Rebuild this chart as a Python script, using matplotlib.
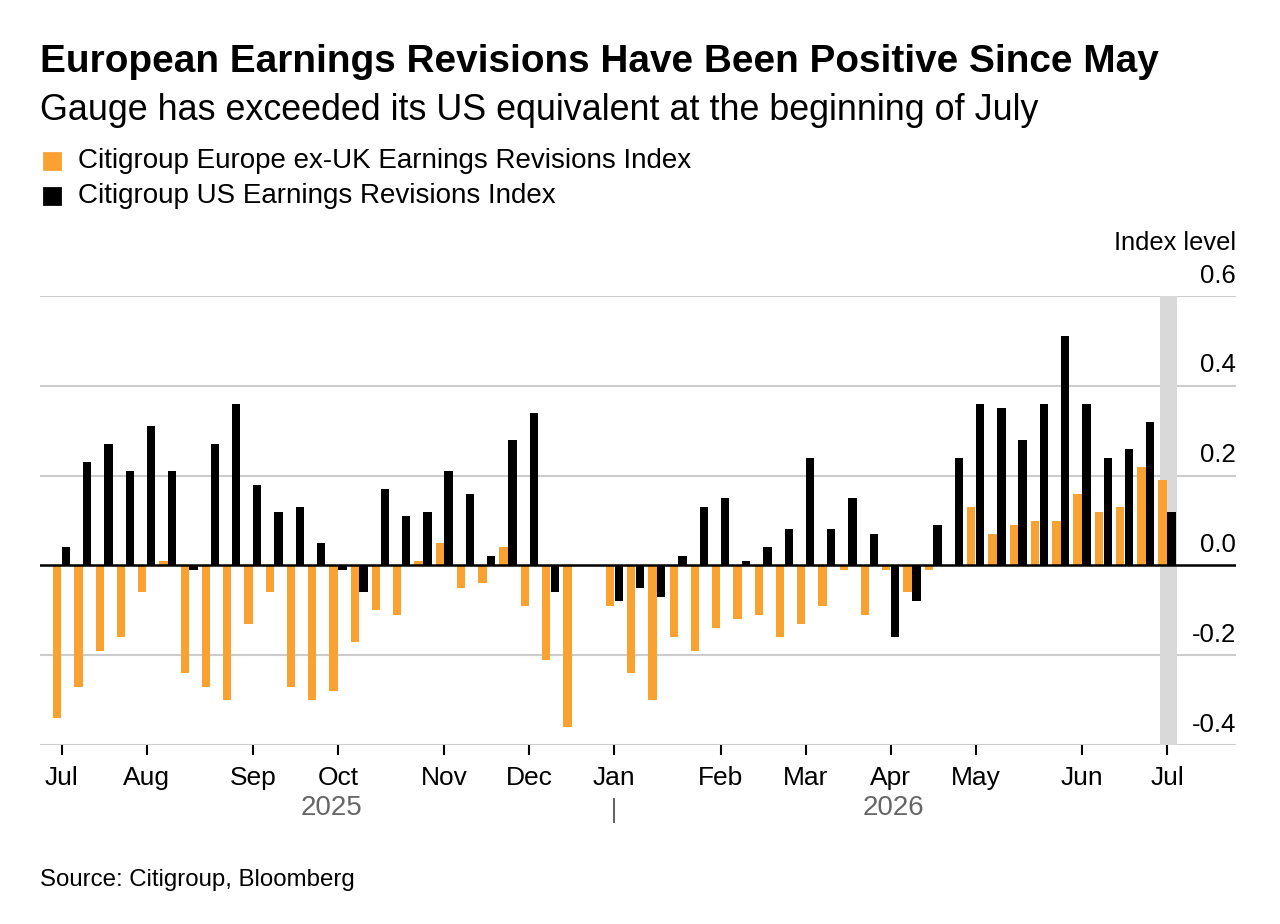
import numpy as np
import pandas as pd
import matplotlib
matplotlib.use('Agg')
import matplotlib.pyplot as plt
import matplotlib.transforms as mtransforms
from matplotlib.lines import Line2D

plt.rcParams['font.family'] = ['Liberation Sans', 'DejaVu Sans']

nan = np.nan

# weekly readings (Fridays), one week missing at year end
weeks = pd.date_range('2025-07-04', periods=53, freq='7D')

europe = [-0.34, -0.27, -0.19, -0.16, -0.06, 0.01, -0.24, -0.27, -0.30, -0.13,
          -0.06, -0.27, -0.30, -0.28, -0.17, -0.10, -0.11, 0.01, 0.05, -0.05,
          -0.04, 0.04, -0.09, -0.21, -0.36, nan, -0.09, -0.24, -0.30, -0.16,
          -0.19, -0.14, -0.12, -0.11, -0.16, -0.13, -0.09, -0.01, -0.11, -0.01,
          -0.06, -0.01, 0.0, 0.13, 0.07, 0.09, 0.10, 0.10, 0.16, 0.12,
          0.13, 0.22, 0.19]

us = [0.04, 0.23, 0.27, 0.21, 0.31, 0.21, -0.01, 0.27, 0.36, 0.18,
      0.12, 0.13, 0.05, -0.01, -0.06, 0.17, 0.11, 0.12, 0.21, 0.16,
      0.02, 0.28, 0.34, -0.06, nan, nan, -0.08, -0.05, -0.07, 0.02,
      0.13, 0.15, 0.01, 0.04, 0.08, 0.24, 0.08, 0.15, 0.07, -0.16,
      -0.08, 0.09, 0.24, 0.36, 0.35, 0.28, 0.36, 0.51, 0.36, 0.24,
      0.26, 0.32, 0.12]

yticks = [-0.4, -0.2, 0.0, 0.2, 0.4, 0.6]
years = ['2025', '2026']
year_pos = [pd.Timestamp('2025-10-01'), pd.Timestamp('2026-04-04')]

orange = '#f9a232'
grid_c = '#cccccc'

df = pd.DataFrame({'europe': europe, 'us': us}, index=weeks)

fig = plt.figure(figsize=(12.8, 9.24), dpi=100)
ax = fig.add_axes([40 / 1280, 1 - 745 / 924, 1196 / 1280, 449 / 924])

off = pd.Timedelta(days=1.45)
bw = 2.75
ax.bar(df.index - off, df['europe'], width=bw, color=orange, zorder=3)
ax.bar(df.index + off, df['us'], width=bw, color='black', zorder=3)

# shade latest week
last = df.index[-1]
ax.axvspan(last - pd.Timedelta(days=2.2), last + pd.Timedelta(days=3.4),
           color='#d9d9d9', zorder=1, lw=0)

ax.set_xlim(df.index[0] - pd.Timedelta(days=7.1), last + pd.Timedelta(days=22.7))
ax.set_ylim(-0.4, 0.6)

for y in yticks:
    if y == 0:
        ax.axhline(y, color='black', lw=1.8, zorder=4)
    else:
        ax.axhline(y, color=grid_c, lw=1.5, zorder=0)
    ax.annotate('%.1f' % y, xy=(1, y), xycoords=('axes fraction', 'data'),
                xytext=(0, 6), textcoords='offset points',
                ha='right', va='bottom', fontsize=18.5, color='black')
fig.text(1236 / 1280, 1 - 243 / 924, 'Index level', ha='right', va='center',
         fontsize=18.3)

for s in ax.spines.values():
    s.set_visible(False)
ax.set_yticks([])

# month ticks at first week of each month
first = [d for i, d in enumerate(df.index) if i == 0 or d.month != df.index[i - 1].month]
ax.set_xticks(first)
ax.set_xticklabels([d.strftime('%b') for d in first], fontsize=19)
ax.tick_params(axis='x', length=7, width=1.5, color='black', pad=8)

# year labels and separator
trans = mtransforms.blended_transform_factory(ax.transData, ax.transAxes)
for yr, pos in zip(years, year_pos):
    ax.text(pos, -0.141, yr, transform=trans, ha='center', va='center',
            fontsize=20, color='#666666')
jan = [d for d in first if d.month == 1][0]
ax.plot([jan, jan], [-0.12, -0.172], transform=trans, color='#666666',
        lw=1.5, clip_on=False)

fig.text(40 / 1280, 1 - 72 / 924, 'European Earnings Revisions Have Been Positive Since May',
         fontsize=27.9, fontweight='bold', va='baseline')
fig.text(40 / 1280, 1 - 120 / 924, 'Gauge has exceeded its US equivalent at the beginning of July',
         fontsize=25.8, va='baseline')

legend_items = [('Citigroup Europe ex-UK Earnings Revisions Index', orange),
                ('Citigroup US Earnings Revisions Index', 'black')]
for i, (lab, c) in enumerate(legend_items):
    yy = 1 - (160.5 + 35.5 * i) / 924
    fig.add_artist(Line2D([51.5 / 1280], [yy], marker='s', markersize=12, color=c,
                          markeredgewidth=2, solid_joinstyle='round',
                          transform=fig.transFigure))
    fig.text(78 / 1280, yy, lab, fontsize=20, va='center')

fig.text(40 / 1280, 1 - 880 / 924, 'Source: Citigroup, Bloomberg', fontsize=17.3, va='center')

plt.savefig('out.png', dpi=100)
